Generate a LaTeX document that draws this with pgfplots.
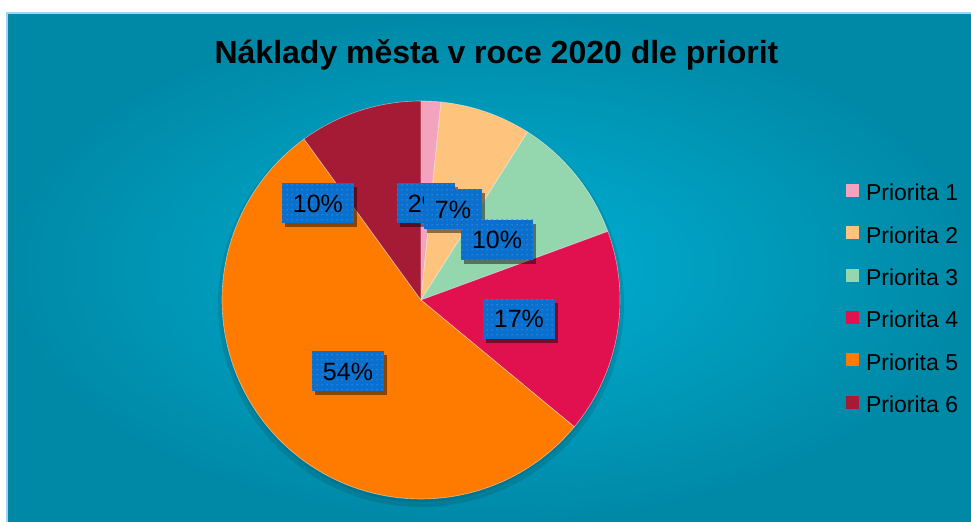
\documentclass[border=0pt]{standalone}
\usepackage{pgfplots}
\pgfplotsset{compat=1.18}
\usepackage{pgfplotstable}
\usepackage{fontspec}
\setmainfont{Liberation Sans}
\usetikzlibrary{shadows,patterns.meta}

\definecolor{bgIn}{HTML}{00B0D4}
\definecolor{bgOut}{HTML}{0089A7}
\definecolor{frameLine}{HTML}{A9D2F2}
\definecolor{pOne}{HTML}{F4A3BF}
\definecolor{pTwo}{HTML}{FEC47E}
\definecolor{pThree}{HTML}{94D6AD}
\definecolor{pFour}{HTML}{E0114E}
\definecolor{pFive}{HTML}{FF7B00}
\definecolor{pSix}{HTML}{A51A35}
\definecolor{lblBlue}{HTML}{0B6FCD}
\definecolor{lblDot}{HTML}{2F8BE2}

\tikzdeclarepattern{
  name=sdots, type=uncolored,
  bottom left={(0bp,0bp)}, top right={(5bp,5bp)},
  tile size={(5bp,5bp)},
  code={\fill (2.5bp,2.5bp) circle (0.9bp);}
}

\tikzset{pielabel/.style={
  fill=lblBlue, postaction={pattern=sdots, pattern color=lblDot},
  drop shadow={shadow xshift=3bp, shadow yshift=-4bp, opacity=0.45, fill=black},
  inner xsep=11bp, inner ysep=0pt, minimum height=40bp,
  text height=18bp, text depth=0bp,
  font=\fontsize{25bp}{25bp}\selectfont, text=black}}

% share in %, printed label, colour, label position (axis units, radius 1)
\pgfplotstableread{
val  lab col    lx     ly
1.6  2   pOne   0.025  0.487
7.4  7   pTwo   0.161  0.457
10.4 10  pThree 0.382  0.302
16.6 17  pFour  0.492 -0.095
54.0 54  pFive -0.367 -0.357
10.0 10  pSix  -0.518  0.487
}\pietable

\begin{document}
\begin{tikzpicture}[x=1bp,y=1bp]
\useasboundingbox (0,0) rectangle (971,522);
\shade[inner color=bgIn, outer color=bgOut] (7,0) rectangle (971,509);
\draw[frameLine, line width=1.5bp] (7,0) -- (7,509) -- (971,509);

\node[font=\bfseries\fontsize{32bp}{32bp}\selectfont, anchor=base]
  at (496.5,458.7) {Náklady města v roce 2020 dle priorit};

\begin{axis}[
  at={(421bp,222bp)}, anchor=center,
  scale only axis, width=398bp, height=398bp,
  xmin=-1, xmax=1, ymin=-1, ymax=1,
  hide axis, clip=false,
  legend image code/.code={\fill[#1, draw=none] (0bp,-3.7bp) rectangle (13bp,9.3bp);},
  legend cell align=left,
  legend style={draw=none, fill=none, at={(1.568,0.822)}, anchor=north west,
    inner sep=0pt, outer sep=0pt, row sep=0pt,
    font=\fontsize{23bp}{23bp}\selectfont,
    nodes={inner sep=0pt, minimum height=42.4bp},
    /tikz/every odd column/.append style={column sep=7bp}},
]
% soft shadow under the pie
\fill[black, opacity=0.10] (axis cs:0,-0.02) circle[radius=203bp];
\fill[black, opacity=0.08] (axis cs:0,-0.01) circle[radius=200bp];

\def\cum{0}
\pgfplotsforeachungrouped \i in {0,...,5}{%
  \pgfplotstablegetelem{\i}{val}\of\pietable \let\sliceVal\pgfplotsretval
  \pgfplotstablegetelem{\i}{col}\of\pietable \let\sliceCol\pgfplotsretval
  \pgfmathsetmacro\aS{90-3.6*\cum}
  \pgfmathsetmacro\aE{90-3.6*(\cum+\sliceVal)}
  \pgfmathsetmacro\cum{\cum+\sliceVal}
  \edef\temp{\noexpand\fill[\sliceCol, draw=white, draw opacity=0.5, line width=0.6bp]
    (axis cs:0,0) -- (axis cs:{cos(\aS)},{sin(\aS)})
    arc[start angle=\aS, end angle=\aE, radius=199bp] -- cycle;}%
  \temp
}
\pgfplotsforeachungrouped \i in {0,...,5}{%
  \pgfplotstablegetelem{\i}{lab}\of\pietable \let\sliceLab\pgfplotsretval
  \pgfplotstablegetelem{\i}{lx}\of\pietable \let\sliceX\pgfplotsretval
  \pgfplotstablegetelem{\i}{ly}\of\pietable \let\sliceY\pgfplotsretval
  \edef\temp{\noexpand\node[pielabel] at (axis cs:\sliceX,\sliceY) {\sliceLab\noexpand\%};}%
  \temp
}

\addlegendimage{fill=pOne}   \addlegendentry{Priorita 1}
\addlegendimage{fill=pTwo}   \addlegendentry{Priorita 2}
\addlegendimage{fill=pThree} \addlegendentry{Priorita 3}
\addlegendimage{fill=pFour}  \addlegendentry{Priorita 4}
\addlegendimage{fill=pFive}  \addlegendentry{Priorita 5}
\addlegendimage{fill=pSix}   \addlegendentry{Priorita 6}
\end{axis}
\end{tikzpicture}
\end{document}
